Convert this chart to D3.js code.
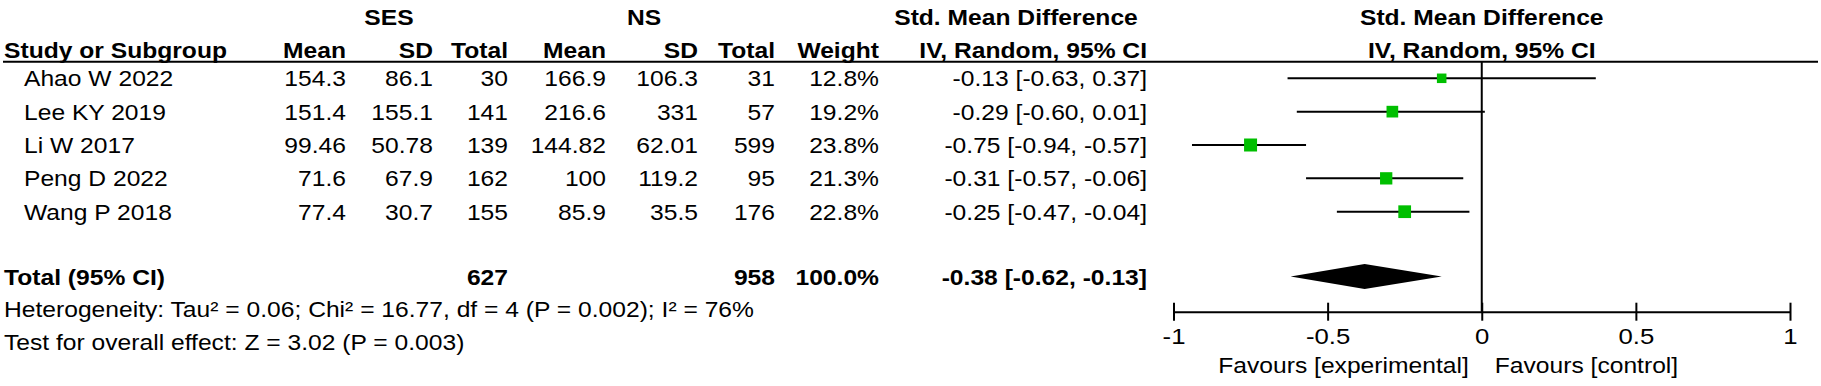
<!DOCTYPE html>
<html>
<head>
<meta charset="utf-8">
<script src="https://cdn.jsdelivr.net/npm/d3@7"></script>
<style>
  html, body { margin: 0; padding: 0; background: #fff; }
  svg { display: block; font-family: "Liberation Sans", Arial, sans-serif; }
</style>
</head>
<body>
<div id="forest"></div>
<script>
const studies = ["Ahao W 2022", "Lee KY 2019", "Li W 2017", "Peng D 2022", "Wang P 2018"];
const sesMean = [154.3, 151.4, 99.46, 71.6, 77.4];
const sesSD = [86.1, 155.1, 50.78, 67.9, 30.7];
const sesTotal = [30, 141, 139, 162, 155];
const nsMean = [166.9, 216.6, 144.82, 100, 85.9];
const nsSD = [106.3, 331, 62.01, 119.2, 35.5];
const nsTotal = [31, 57, 599, 95, 176];
const weights = [12.8, 19.2, 23.8, 21.3, 22.8];
const smd = [-0.13, -0.29, -0.75, -0.31, -0.25];
const lower = [-0.63, -0.6, -0.94, -0.57, -0.47];
const upper = [0.37, 0.01, -0.57, -0.06, -0.04];

const pooled = { sesTotal: 627, nsTotal: 958, weight: 100, smd: -0.38, lower: -0.62, upper: -0.13 };
const heterogeneity = "Heterogeneity: Tau² = 0.06; Chi² = 16.77, df = 4 (P = 0.002); I² = 76%";
const overallTest = "Test for overall effect: Z = 3.02 (P = 0.003)";
const axisTicks = [-1, -0.5, 0, 0.5, 1];
const favours = ["Favours [experimental]", "Favours [control]"];

const width = 1821;
const height = 386;
const SX = 1.12; // text in the original is a bit wide
const fontSize = 22;

const svg = d3.select("#forest").append("svg")
  .attr("width", width)
  .attr("height", height);

// plain hyphen as minus, like the original
const locale = d3.formatLocale({ decimal: ".", thousands: ",", grouping: [3], currency: ["", ""], minus: "-" });
const f2 = locale.format(".2f");
const ciText = (m, l, u) => `${f2(m)} [${f2(l)}, ${f2(u)}]`;

function label(x, y, str, anchor, bold, size) {
  return svg.append("text")
    .attr("transform", `translate(${x},${y}) scale(${SX},1)`)
    .attr("text-anchor", anchor || "start")
    .attr("font-size", size || fontSize)
    .attr("font-weight", bold ? "bold" : "normal")
    .attr("fill", "#000")
    .text(str);
}

// columns (right edges)
const col = {
  study: 24,
  sesMean: 346, sesSD: 433, sesTotal: 508,
  nsMean: 606, nsSD: 698, nsTotal: 775,
  weight: 879, ci: 1147
};

const x = d3.scaleLinear().domain([-1, 1]).range([1173.5, 1790]);
const y = d3.scalePoint().domain(studies).range([78.3, 211.7]);
const size = d3.scaleSqrt().domain([0, d3.max(weights)]).range([0, 13]);

const headerLineY = 61.7;
const axisY = 311.7;
const totalY = 276.5;
const base = 8; // baseline offset from row centre

// group titles
label(389, 25, "SES", "middle", true);
label(644, 25, "NS", "middle", true);
label(1016, 25, "Std. Mean Difference", "middle", true);
label(x(0), 25, "Std. Mean Difference", "middle", true);

// column headers
label(4, 58, "Study or Subgroup", "start", true);
[["Mean", col.sesMean], ["SD", col.sesSD], ["Total", col.sesTotal],
 ["Mean", col.nsMean], ["SD", col.nsSD], ["Total", col.nsTotal],
 ["Weight", col.weight], ["IV, Random, 95% CI", col.ci]]
  .forEach(([t, cx]) => label(cx, 58, t, "end", true));
label(x(0), 58, "IV, Random, 95% CI", "middle", true);

svg.append("line")
  .attr("x1", 3).attr("x2", 1818)
  .attr("y1", headerLineY).attr("y2", headerLineY)
  .attr("stroke", "#000").attr("stroke-width", 2);

// study rows
studies.forEach((s, i) => {
  const yy = y(s) + base;
  label(col.study, yy, s, "start");
  label(col.sesMean, yy, String(sesMean[i]), "end");
  label(col.sesSD, yy, String(sesSD[i]), "end");
  label(col.sesTotal, yy, String(sesTotal[i]), "end");
  label(col.nsMean, yy, String(nsMean[i]), "end");
  label(col.nsSD, yy, String(nsSD[i]), "end");
  label(col.nsTotal, yy, String(nsTotal[i]), "end");
  label(col.weight, yy, weights[i].toFixed(1) + "%", "end");
  label(col.ci, yy, ciText(smd[i], lower[i], upper[i]), "end");
});

// total row
label(4, totalY + base, "Total (95% CI)", "start", true);
label(col.sesTotal, totalY + base, String(pooled.sesTotal), "end", true);
label(col.nsTotal, totalY + base, String(pooled.nsTotal), "end", true);
label(col.weight, totalY + base, pooled.weight.toFixed(1) + "%", "end", true);
label(col.ci, totalY + base, ciText(pooled.smd, pooled.lower, pooled.upper), "end", true);

label(4, 317, heterogeneity, "start");
label(4, 349.5, overallTest, "start");

// zero line
svg.append("line")
  .attr("x1", x(0)).attr("x2", x(0))
  .attr("y1", headerLineY).attr("y2", axisY)
  .attr("stroke", "#000").attr("stroke-width", 2);

// CI lines and markers
const rows = studies.map((s, i) => ({ s, m: smd[i], l: lower[i], u: upper[i], w: weights[i] }));

svg.append("g").selectAll("line")
  .data(rows)
  .join("line")
  .attr("x1", (d) => x(d.l))
  .attr("x2", (d) => x(d.u))
  .attr("y1", (d) => y(d.s))
  .attr("y2", (d) => y(d.s))
  .attr("stroke", "#000")
  .attr("stroke-width", 2);

svg.append("g").selectAll("rect")
  .data(rows)
  .join("rect")
  .attr("x", (d) => x(d.m) - size(d.w) / 2)
  .attr("y", (d) => y(d.s) - size(d.w) / 2)
  .attr("width", (d) => size(d.w))
  .attr("height", (d) => size(d.w))
  .attr("fill", "#00bf00");

// pooled diamond
const dh = 12.5;
svg.append("path")
  .attr("d", `M${x(pooled.lower)},${totalY} L${x(pooled.smd)},${totalY - dh} L${x(pooled.upper)},${totalY} L${x(pooled.smd)},${totalY + dh} Z`)
  .attr("fill", "#000");

// axis
const axis = d3.axisBottom(x)
  .tickValues(axisTicks)
  .tickFormat((d) => String(d))
  .tickSizeOuter(0)
  .tickSizeInner(9)
  .tickPadding(0);

const ax = svg.append("g")
  .attr("transform", `translate(0,${axisY})`)
  .call(axis);

ax.select(".domain").attr("stroke", "#000").attr("stroke-width", 2);
ax.selectAll(".tick line")
  .attr("y1", -9).attr("y2", 9)
  .attr("stroke", "#000").attr("stroke-width", 2);
ax.selectAll(".tick text")
  .attr("y", null).attr("dy", null)
  .attr("transform", `translate(0,32) scale(${SX},1)`)
  .attr("font-size", 23)
  .attr("font-family", "Liberation Sans, Arial, sans-serif")
  .attr("fill", "#000");

label(x(0) - 13, 373, favours[0], "end");
label(x(0) + 13, 373, favours[1], "start");
</script>
</body>
</html>
